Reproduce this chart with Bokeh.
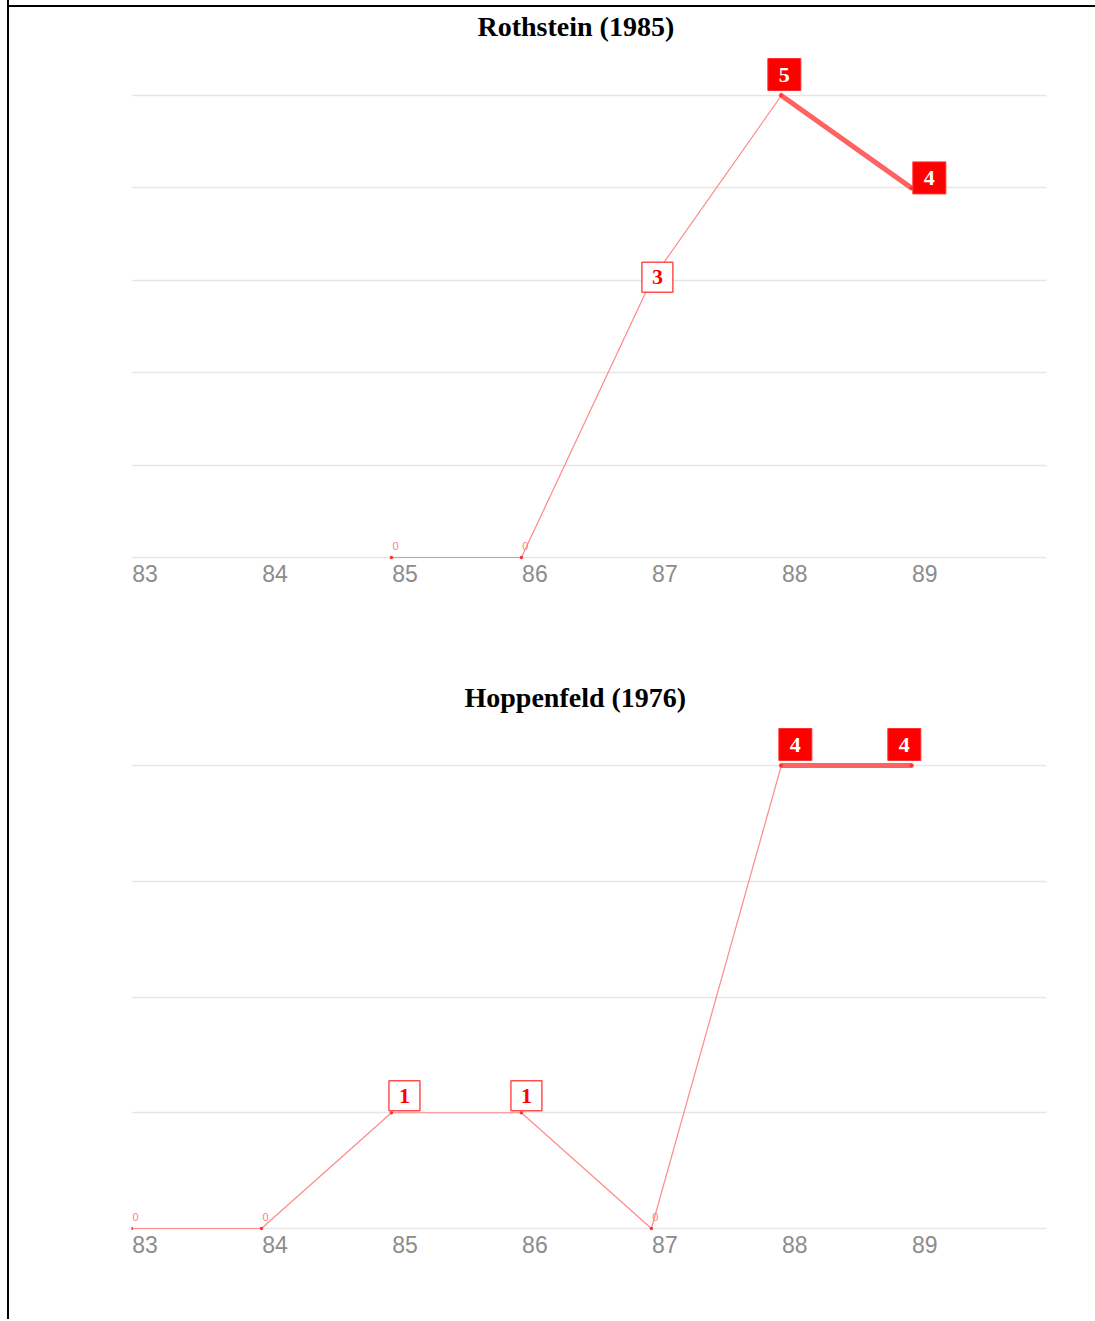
from bokeh.plotting import figure
from bokeh.layouts import column
from bokeh.models import Range1d, FixedTicker, LinearAxis
from bokeh.core.properties import value
from bokeh.embed import file_html
from bokeh.resources import INLINE

# ---------------- data ----------------
year_ticks = [83, 84, 85, 86, 87, 88, 89]
tick_labels = ["83", "84", "85", "86", "87", "88", "89"]

roth_title = "Rothstein (1985)"
roth_years = [85, 86, 87, 88, 89]
roth_values = [0, 0, 3, 5, 4]

hop_title = "Hoppenfeld (1976)"
hop_years = [83, 84, 85, 86, 87, 88, 89]
hop_values = [0, 0, 1, 1, 0, 4, 4]

# ---------------- styling ----------------
roth_dx = [4, 4, 6, 3, 18]
roth_dy = [-12, -12, -3, -21, -10]
roth_thick = [False, False, False, True]

hop_dx = [4, 4, 13, 5, 4, 14, -7]
hop_dy = [-12, -12, -17, -17, -12, -21, -21]
hop_thick = [False, False, False, False, False, True]

THIN = "#ff8a8a"
THICK = "#ff6262"
DOT = "#ff3030"
RED = "#ff0000"

X0, X1 = 83, 90.04
FRAME_W = 915
LABEL_SHIFT_PX = 13.5   # tick labels sit to the right of their year


def panel(title, title_shift, xs, ys, dx, dy, thick, y_max, px_per_unit, top_border, height):
    frame_h = 511
    y0 = -3.0 / px_per_unit
    y1 = y0 + frame_h / px_per_unit
    p = figure(width=1086, height=height, output_backend="svg", toolbar_location=None,
               x_range=Range1d(X0, X1), y_range=Range1d(y0, y1),
               frame_width=FRAME_W, frame_height=frame_h,
               min_border_left=122, min_border_right=49, min_border_top=top_border,
               min_border_bottom=height - frame_h - top_border)
    p.outline_line_color = None
    p.background_fill_color = "white"
    p.border_fill_color = None

    p.title.text = title
    p.title.align = "left"
    p.title.offset = title_shift
    p.title.vertical_align = "bottom"
    p.title.text_font = "Liberation Serif"
    p.title.text_font_size = "28px"
    p.title.text_font_style = "bold"
    p.title.text_color = "black"
    p.title.standoff = 16

    p.yaxis.visible = False
    p.ygrid.ticker = FixedTicker(ticks=list(range(0, y_max + 1)))
    p.ygrid.grid_line_color = "#e6e6e6"
    p.ygrid.grid_line_width = 1.5
    p.xgrid.visible = False
    p.xaxis.visible = False

    # tick labels: an axis on a range shifted by a few pixels
    shift = LABEL_SHIFT_PX * (X1 - X0) / FRAME_W
    p.extra_x_ranges = {"lab": Range1d(X0 - shift, X1 - shift)}
    ax = LinearAxis(x_range_name="lab", ticker=FixedTicker(ticks=year_ticks))
    ax.major_label_overrides = {t: l for t, l in zip(year_ticks, tick_labels)}
    ax.axis_line_color = None
    ax.major_tick_line_color = None
    ax.minor_tick_line_color = None
    ax.major_label_text_font = "Liberation Sans"
    ax.major_label_text_font_size = "23px"
    ax.major_label_text_color = "#8c8c8c"
    ax.major_label_standoff = -2
    p.add_layout(ax, "below")

    # lines
    p.line(xs, ys, line_color=THIN, line_width=1.2)
    sx0 = [xs[i] for i in range(len(thick)) if thick[i]]
    sy0 = [ys[i] for i in range(len(thick)) if thick[i]]
    sx1 = [xs[i + 1] for i in range(len(thick)) if thick[i]]
    sy1 = [ys[i + 1] for i in range(len(thick)) if thick[i]]
    p.segment(sx0, sy0, sx1, sy1, line_color=THICK, line_width=5, line_cap="round")
    p.scatter(xs, ys, size=3.5, color=DOT, line_color=None)

    # zero labels
    zi = [i for i, v in enumerate(ys) if v == 0]
    p.text([xs[i] for i in zi], [ys[i] for i in zi], text=[str(ys[i]) for i in zi],
           x_offset=[dx[i] for i in zi], y_offset=[dy[i] for i in zi],
           text_align="center", text_baseline="middle",
           text_font=value("Liberation Sans"), text_font_size="11px", text_color="#ff8080")

    # outlined labels
    oi = [i for i, v in enumerate(ys) if 0 < v < 4]
    if oi:
        p.text([xs[i] for i in oi], [ys[i] for i in oi], text=[str(ys[i]) for i in oi],
               x_offset=[dx[i] for i in oi], y_offset=[dy[i] for i in oi],
               anchor="center", text_align="center", text_baseline="middle",
               text_font=value("Liberation Serif"), text_font_size="22px", text_font_style="bold",
               text_color=RED, background_fill_color="white",
               border_line_color="#ff5050", border_line_width=1.5, padding=(10, 8))

    # filled labels
    fi = [i for i, v in enumerate(ys) if v >= 4]
    if fi:
        p.text([xs[i] for i in fi], [ys[i] for i in fi], text=[str(ys[i]) for i in fi],
               x_offset=[dx[i] for i in fi], y_offset=[dy[i] for i in fi],
               anchor="center", text_align="center", text_baseline="middle",
               text_font=value("Liberation Serif"), text_font_size="22px", text_font_style="bold",
               text_color="white", background_fill_color=RED,
               border_line_color="#ff3030", border_line_width=1, padding=(11, 9))
    return p


p1 = panel(roth_title, 346, roth_years, roth_values, roth_dx, roth_dy, roth_thick,
           5, 92.4, 49, 650)
p2 = panel(hop_title, 333, hop_years, hop_values, hop_dx, hop_dy, hop_thick,
           4, 115.75, 70, 669)

layout = column(p1, p2, styles={
    "border-left": "2px solid black",
    "margin-left": "7px",
    "margin-top": "0px",
    "background": "linear-gradient(#000, #000) 0px 5px / 100% 2px no-repeat border-box",
})

open("out.html", "w").write(file_html(layout, INLINE))
